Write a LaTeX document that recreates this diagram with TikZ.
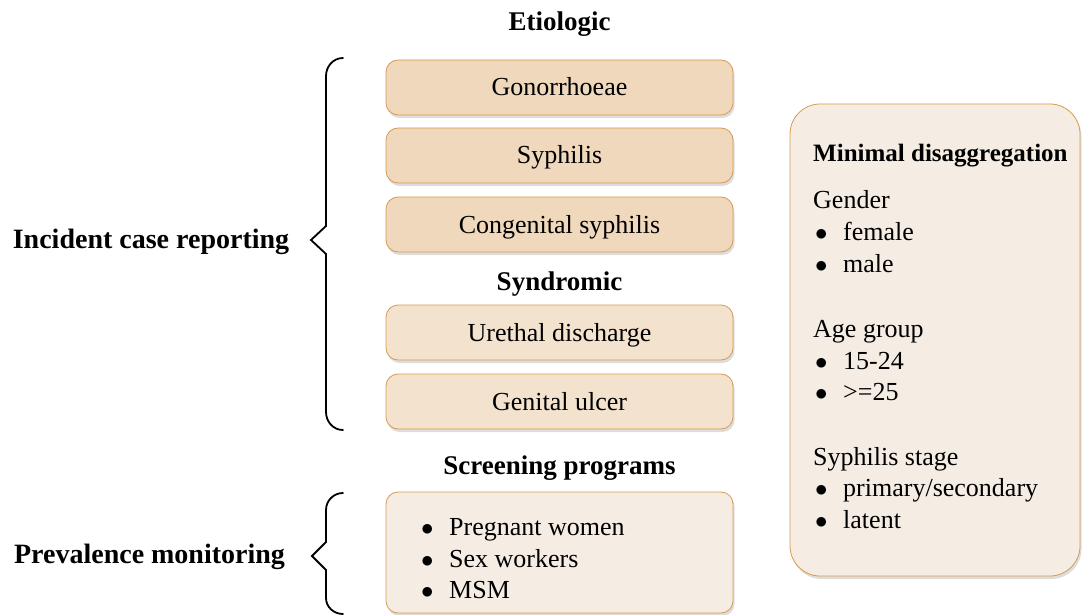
\documentclass[tikz,border=0pt]{standalone}
\usepackage{fontspec}
\setmainfont{Liberation Serif}
\usepackage{tikz}
\usetikzlibrary{shadows}

\definecolor{etiofill}{HTML}{EFD8BB}
\definecolor{syndfill}{HTML}{F3E2CD}
\definecolor{palefill}{HTML}{F5EDE3}
\definecolor{boxline}{HTML}{D9994F}

\newcommand{\dotitem}{\makebox[28pt][l]{$\bullet$}}

\tikzset{
  stibox/.style={draw=boxline, line width=0.8pt, rounded corners=12pt,
    minimum width=347pt, minimum height=55pt, inner sep=0pt,
    text height=20pt, text depth=3pt,
    font=\fontsize{26}{30}\selectfont,
    drop shadow={shadow xshift=1.5pt, shadow yshift=-3pt, opacity=0.22, fill=black!60}},
  heading/.style={font=\fontsize{27}{30}\selectfont\bfseries, inner sep=0pt},
  sidelabel/.style={font=\fontsize{28}{30}\selectfont\bfseries, inner sep=0pt},
  itemtext/.style={font=\fontsize{26}{30}\selectfont, inner sep=0pt, anchor=base west},
  bracepath/.style={line width=1.8pt, line cap=round, line join=miter}
}

\begin{document}
\begin{tikzpicture}[x=1pt,y=-1pt]
\useasboundingbox (0,0) rectangle (1084,615);

% etiologic
\node [heading] (etio) at (559.5,24) {Etiologic};
\node [stibox, fill=etiofill] (gono) at (559.5,87.5) {Gonorrhoeae};
\node [stibox, fill=etiofill] (syph) at (559.5,155.5) {Syphilis};
\node [stibox, fill=etiofill] (congen) at (559.5,224.5) {Congenital syphilis};

% syndromic
\node [heading] (synd) at (559.5,284) {Syndromic};
\node [stibox, fill=syndfill] (ureth) at (559.5,332.5) {Urethal discharge};
\node [stibox, fill=syndfill] (ulcer) at (559.5,401.5) {Genital ulcer};

% screening
\node [heading] (screen) at (559.5,468) {Screening programs};
\node [stibox, fill=palefill, minimum height=121pt] (screenbox) at (559.5,552.5) {};
\node [itemtext] (preg) at (421,535) {\dotitem Pregnant women};
\node [itemtext] (sexw) at (421,567) {\dotitem Sex workers};
\node [itemtext] (msm) at (421,598) {\dotitem MSM};

% disaggregation
\node [stibox, fill=palefill, rounded corners=30pt, minimum width=290pt,
  minimum height=472pt] (disagg) at (935,340) {};
\node [itemtext, font=\fontsize{25}{30}\selectfont\bfseries] (dtitle) at (813,161) {Minimal disaggregation};
\node [itemtext] (gender) at (813,208) {Gender};
\node [itemtext] (female) at (815,240) {\dotitem female};
\node [itemtext] (male) at (815,272) {\dotitem male};
\node [itemtext] (agegrp) at (813,337) {Age group};
\node [itemtext] (young) at (815,369) {\dotitem 15-24};
\node [itemtext] (older) at (815,400) {\dotitem >=25};
\node [itemtext] (stage) at (813,465) {Syphilis stage};
\node [itemtext] (primsec) at (815,496) {\dotitem primary/secondary};
\node [itemtext] (latent) at (815,528) {\dotitem latent};

% braces and labels
\draw [bracepath] (343,58) to[out=180,in=90] (326,76) -- (326,226) -- (311,240)
  -- (326,254) -- (326,412) to[out=-90,in=180] (343,430);
\node [sidelabel] (incid) at (151,242) {Incident case reporting};

\draw [bracepath] (343,493) to[out=180,in=90] (326,510) -- (326,542) -- (312,556)
  -- (326,570) -- (326,598) to[out=-90,in=180] (343,614);
\node [sidelabel] (preval) at (149.5,557) {Prevalence monitoring};
\end{tikzpicture}
\end{document}
